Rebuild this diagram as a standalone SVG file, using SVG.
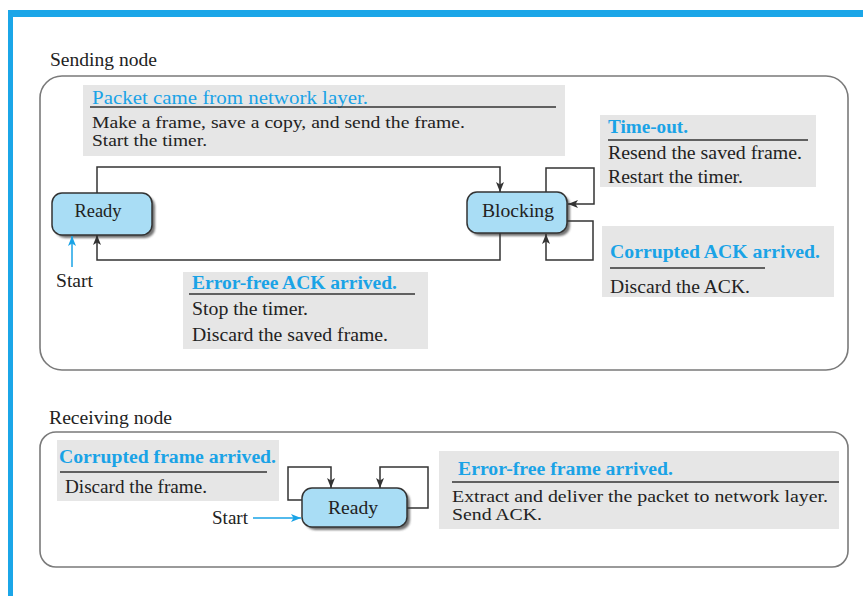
<svg xmlns="http://www.w3.org/2000/svg" width="863" height="596" viewBox="0 0 863 596">
  <style>
    text { font-family: "Liberation Serif", "Times New Roman", Times, "DejaVu Serif", serif; }
    .t { font-size: 18px; fill: #222; }
    .h { font-size: 18px; font-weight: bold; fill: #1aa3e6; }
    .sm { font-size: 16px; }
    .sec { fill: none; stroke: #7a7a7a; stroke-width: 1.6; }
    .note { fill: #e6e6e6; }
    .rule { stroke: #333; stroke-width: 1.5; }
    .state { fill: #a9ddf5; stroke: #333; stroke-width: 1.5; }
    .shadow { fill: #444; opacity: 0.75; }
    .edge { fill: none; stroke: #333; stroke-width: 1.5; marker-end: url(#arrow); }
    .start { fill: none; stroke: #1aa3e6; stroke-width: 1.5; marker-end: url(#arrowBlue); }
  </style>
  <defs>
    <marker id="arrow" viewBox="0 0 10 8" refX="10" refY="4" markerWidth="10" markerHeight="8" markerUnits="userSpaceOnUse" orient="auto">
      <path d="M0,0 L10,4 L0,8 L2.5,4 z" fill="#333"/>
    </marker>
    <marker id="arrowBlue" viewBox="0 0 10 8" refX="10" refY="4" markerWidth="10" markerHeight="8" markerUnits="userSpaceOnUse" orient="auto">
      <path d="M0,0 L10,4 L0,8 L2.5,4 z" fill="#1aa3e6"/>
    </marker>
    <filter id="soft" x="-10%" y="-10%" width="130%" height="140%">
      <feGaussianBlur stdDeviation="1"/>
    </filter>
  </defs>

  <rect width="863" height="596" fill="#fff"/>

  <!-- page frame -->
  <rect x="8" y="10" width="855" height="7" fill="#1ba6e8"/>
  <rect x="8" y="10" width="5" height="586" fill="#1ba6e8"/>

  <g font-family="Liberation Serif, serif">
  <!-- sending side -->
  <g id="sending-panel">
    <text class="t" x="50" y="66" textLength="107" lengthAdjust="spacingAndGlyphs">Sending node</text>
    <rect class="sec" x="40" y="76" width="808" height="294" rx="22"/>
  </g>

  <g id="note-packet">
    <rect class="note" x="83" y="85" width="482" height="71"/>
    <text class="h" x="92" y="104" textLength="276" lengthAdjust="spacingAndGlyphs" style="font-weight:normal">Packet came from network layer.</text>
    <line class="rule" x1="90" y1="107" x2="556" y2="107"/>
    <text class="t sm" x="92" y="128" textLength="373" lengthAdjust="spacingAndGlyphs">Make a frame, save a copy, and send the frame.</text>
    <text class="t sm" x="92" y="146" textLength="115" lengthAdjust="spacingAndGlyphs">Start the timer.</text>
  </g>

  <g id="note-timeout">
    <rect class="note" x="600" y="115" width="216" height="72"/>
    <text class="h" x="608" y="133" textLength="80" lengthAdjust="spacingAndGlyphs">Time-out.</text>
    <line class="rule" x1="608" y1="140" x2="808" y2="140"/>
    <text class="t" x="608" y="159" textLength="194" lengthAdjust="spacingAndGlyphs">Resend the saved frame.</text>
    <text class="t" x="608" y="183" textLength="135" lengthAdjust="spacingAndGlyphs">Restart the timer.</text>
  </g>

  <g id="note-corrupted-ack">
    <rect class="note" x="602" y="226" width="232" height="71"/>
    <text class="h" x="610" y="258" textLength="210" lengthAdjust="spacingAndGlyphs">Corrupted ACK arrived.</text>
    <line class="rule" x1="610" y1="268" x2="765" y2="268"/>
    <text class="t" x="610" y="293" textLength="140" lengthAdjust="spacingAndGlyphs">Discard the ACK.</text>
  </g>

  <g id="note-errorfree-ack">
    <rect class="note" x="183" y="272" width="245" height="77"/>
    <text class="h" x="192" y="289" textLength="205" lengthAdjust="spacingAndGlyphs">Error-free ACK arrived.</text>
    <line class="rule" x1="189" y1="294" x2="415" y2="294"/>
    <text class="t" x="192" y="315" textLength="116" lengthAdjust="spacingAndGlyphs">Stop the timer.</text>
    <text class="t" x="192" y="341" textLength="196" lengthAdjust="spacingAndGlyphs">Discard the saved frame.</text>
  </g>

  <g id="send-ready">
    <rect class="shadow" x="55" y="196" width="100" height="42" rx="10" filter="url(#soft)"/>
    <rect class="state" x="52" y="193" width="100" height="42" rx="10"/>
    <text class="t" x="98" y="217" text-anchor="middle" textLength="47" lengthAdjust="spacingAndGlyphs">Ready</text>
  </g>

  <g id="send-blocking">
    <rect class="shadow" x="470" y="195" width="100" height="41" rx="10" filter="url(#soft)"/>
    <rect class="state" x="467" y="192" width="100" height="41" rx="10"/>
    <text class="t" x="518" y="217" text-anchor="middle" textLength="72" lengthAdjust="spacingAndGlyphs">Blocking</text>
  </g>

  <g id="send-start">
    <text class="t" x="56" y="287" textLength="37" lengthAdjust="spacingAndGlyphs">Start</text>
  </g>

  <!-- receiving side -->
  <g id="receiving-panel">
    <text class="t" x="49" y="424" textLength="123" lengthAdjust="spacingAndGlyphs">Receiving node</text>
    <rect class="sec" x="40" y="432" width="808" height="135" rx="16"/>
  </g>

  <g id="note-corrupted-frame">
    <rect class="note" x="57" y="440" width="222" height="61"/>
    <text class="h" x="59" y="463" textLength="217" lengthAdjust="spacingAndGlyphs">Corrupted frame arrived.</text>
    <line class="rule" x1="60" y1="472" x2="267" y2="472"/>
    <text class="t" x="65" y="493" textLength="142" lengthAdjust="spacingAndGlyphs">Discard the frame.</text>
  </g>

  <g id="note-errorfree-frame">
    <rect class="note" x="439" y="451" width="400" height="78"/>
    <text class="h" x="458" y="475" textLength="215" lengthAdjust="spacingAndGlyphs">Error-free frame arrived.</text>
    <line class="rule" x1="452" y1="482" x2="839" y2="482"/>
    <text class="t sm" x="452" y="502" textLength="376" lengthAdjust="spacingAndGlyphs">Extract and deliver the packet to network layer.</text>
    <text class="t sm" x="452" y="520" textLength="90" lengthAdjust="spacingAndGlyphs">Send ACK.</text>
  </g>

  <g id="recv-ready">
    <rect class="shadow" x="305" y="491" width="105" height="39" rx="10" filter="url(#soft)"/>
    <rect class="state" x="302" y="488" width="105" height="39" rx="10"/>
    <text class="t" x="353" y="514" text-anchor="middle" textLength="50" lengthAdjust="spacingAndGlyphs">Ready</text>
  </g>

  <g id="recv-start">
    <text class="t" x="212" y="524" textLength="36" lengthAdjust="spacingAndGlyphs">Start</text>
  </g>
  </g>

  <!-- transitions -->
  <g id="connectors">
    <path class="edge" d="M97,193 V167 H500 V192"/>
    <path class="edge" d="M500,233 V260 H97 V235"/>
    <path class="start" d="M72,267 V236"/>
    <path class="edge" d="M546,192 V168 H594 V204 H568"/>
    <path class="edge" d="M567,221 H593 V260 H546 V234"/>
    <path class="edge" d="M302,500 H288 V467 H331 V488"/>
    <path class="edge" d="M407,508 H428 V467 H380 V488"/>
    <path class="start" d="M253,518 H301"/>
  </g>
</svg>
